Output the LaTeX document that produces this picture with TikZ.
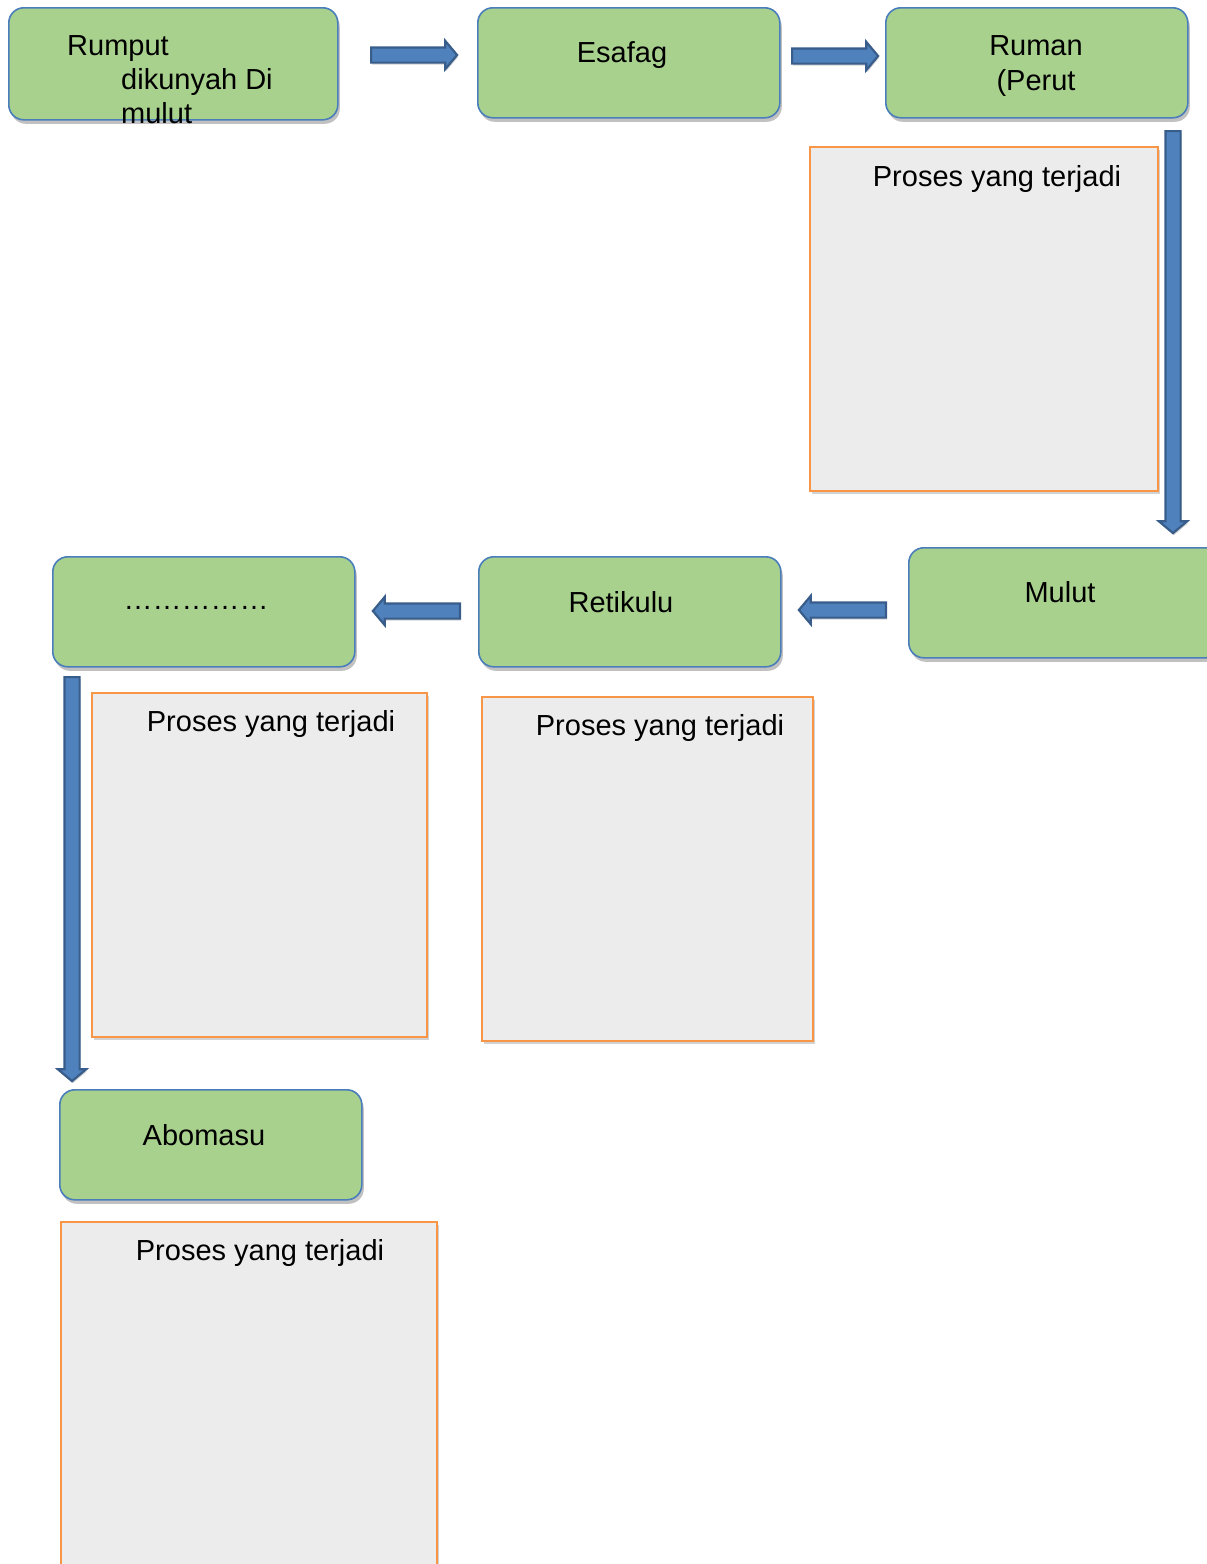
\documentclass[tikz,border=0pt]{standalone}
\usepackage{fontspec}
\setmainfont{Liberation Sans}
\usetikzlibrary{shapes.arrows,shadows,calc}
\definecolor{gfill}{HTML}{A9D18E}
\definecolor{gborder}{HTML}{4A7EBB}
\definecolor{pfill}{HTML}{ECECEC}
\definecolor{pborder}{HTML}{F79646}
\definecolor{afill}{HTML}{4F81BD}
\definecolor{aborder}{HTML}{385D8A}
\begin{document}
\begin{tikzpicture}[x=1pt,y=-1pt,
  organ/.style={draw=gborder, fill=gfill, line width=1.6pt, rounded corners=15pt,
    minimum width=302pt, minimum height=110pt, inner sep=0pt, anchor=north west,
    drop shadow={shadow xshift=2pt, shadow yshift=-4pt, opacity=0.35, fill=black!70}},
  proc/.style={draw=pborder, fill=pfill, line width=1.6pt,
    minimum width=335pt, minimum height=344pt, inner sep=0pt, anchor=north west,
    drop shadow={shadow xshift=2pt, shadow yshift=-3pt, opacity=0.25, fill=black!70}},
  txt/.style={font=\fontsize{29}{34}\selectfont, inner sep=0pt, anchor=base},
  txtl/.style={txt, anchor=base west},
  barrow/.style={single arrow, draw=aborder, fill=afill, line width=2.2pt,
    inner xsep=0pt, inner ysep=6.5pt, single arrow head extend=6.5pt,
    single arrow tip angle=100, sloped, allow upside down, anchor=tail,
    drop shadow={shadow xshift=1pt, shadow yshift=-2pt, opacity=0.25, fill=black!70}}
  ]
\useasboundingbox (0,0) rectangle (1207,1564);

% green organ boxes
\node[organ, minimum width=329pt, minimum height=112pt] (rumput) at (8,7) {};
\node[organ] (esafag) at (477,7) {};
\node[organ] (ruman) at (885,7) {};
\node[organ, minimum width=312pt] (mulut) at (908,547) {};
\node[organ] (retikulu) at (478,556) {};
\node[organ] (dots) at (52,556) {};
\node[organ] (abomasu) at (59,1089) {};

% grey process boxes
\node[proc, minimum width=348pt] (p1) at (809,146) {};
\node[proc] (p2) at (91,692) {};
\node[proc, minimum width=331pt] (p3) at (481,696) {};
\node[proc, minimum width=376pt, minimum height=370pt] (p4) at (60,1221) {};

% texts
\node[txtl] (t1a) at (67,55) {Rumput};
\node[txtl] (t1b) at (121,89) {dikunyah Di};
\node[txtl] (t1c) at (121,123) {mulut};
\node[txt] (t2) at (622,62) {Esafag};
\node[txt] (t3a) at (1036,55) {Ruman};
\node[txt] (t3b) at (1036,90) {(Perut};
\node[txt] (t4) at (1060,602) {Mulut};
\node[txt] (t5) at (621,612) {Retikulu};
\node[txt] (t6) at (196,609) {……………};
\node[txt] (t7) at (204,1145) {Abomasu};
\node[txt] (tp1) at (997,186) {Proses yang terjadi};
\node[txt] (tp2) at (271,731) {Proses yang terjadi};
\node[txt] (tp3) at (660,735) {Proses yang terjadi};
\node[txt] (tp4) at (260,1260) {Proses yang terjadi};

% arrow end points
\coordinate (a1s) at (370,55);   \coordinate (a1e) at (456,55);
\coordinate (a2s) at (791,56);   \coordinate (a2e) at (877,56);
\coordinate (a3s) at (1173,130); \coordinate (a3e) at (1173,532);
\coordinate (a4s) at (887,610);  \coordinate (a4e) at (800,610);
\coordinate (a5s) at (461,611);  \coordinate (a5e) at (374,611);
\coordinate (a6s) at (72,676);   \coordinate (a6e) at (72,1080);

% block arrows
\path (a1s) -- (a1e) node[barrow, pos=0, minimum height=86pt] (arr1) {};
\path (a2s) -- (a2e) node[barrow, pos=0, minimum height=86pt] (arr2) {};
\path (a3s) -- (a3e) node[barrow, pos=0, minimum height=402pt] (arr3) {};
\path (a4s) -- (a4e) node[barrow, pos=0, minimum height=87pt] (arr4) {};
\path (a5s) -- (a5e) node[barrow, pos=0, minimum height=87pt] (arr5) {};
\path (a6s) -- (a6e) node[barrow, pos=0, minimum height=404pt] (arr6) {};
\end{tikzpicture}
\end{document}
